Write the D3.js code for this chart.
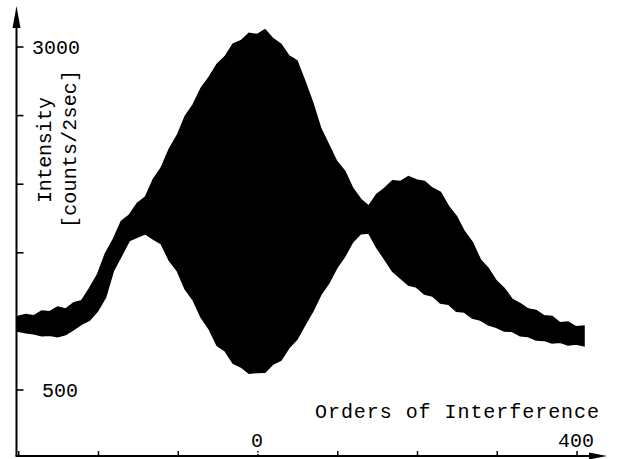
<!DOCTYPE html>
<html>
<head>
<meta charset="utf-8">
<script src="https://cdn.jsdelivr.net/npm/d3@7"></script>
<style>
  body { margin: 0; background: white; }
</style>
</head>
<body>
<div id="vis"></div>
<script>
const width = 617;
const height = 459;

// orders of interference (x), sampled every 10 orders
const orders = [-300, -290, -280, -270, -260, -250, -240, -230, -220, -210,
        -200, -190, -180, -170, -160, -150, -140, -130, -120, -110,
        -100, -90, -80, -70, -60, -50, -40, -30, -20, -10,
        0, 10, 20, 30, 40, 50, 60, 70, 80, 90,
        100, 110, 120, 130, 140, 150, 160, 170, 180, 190,
        200, 210, 220, 230, 240, 250, 260, 270, 280, 290,
        300, 310, 320, 330, 340, 350, 360, 370, 380, 390,
        400, 410];

// upper envelope of the fringes [counts/2sec]
const upper = [1035, 1050, 1040, 1075, 1070, 1105, 1090, 1135, 1150, 1240,
        1340, 1495, 1600, 1730, 1775, 1860, 1905, 2035, 2120, 2255,
        2355, 2495, 2580, 2700, 2780, 2875, 2930, 3020, 3045, 3100,
        3090, 3125, 3060, 3020, 2935, 2900, 2750, 2590, 2405, 2285,
        2165, 2095, 1970, 1890, 1840, 1925, 1970, 2025, 2020, 2055,
        2030, 2020, 1970, 1940, 1840, 1765, 1655, 1575, 1450, 1385,
        1295, 1240, 1160, 1130, 1090, 1080, 1040, 1035, 990, 995,
        960, 965];

// lower envelope of the fringes [counts/2sec]
const lower = [930, 918, 910, 895, 900, 888, 905, 940, 980, 1010,
        1075, 1175, 1370, 1480, 1590, 1615, 1638, 1600, 1565, 1445,
        1370, 1235, 1155, 1030, 945, 825, 785, 695, 668, 622,
        628, 630, 690, 718, 808, 870, 975, 1075, 1195, 1280,
        1390, 1475, 1580, 1640, 1645, 1540, 1455, 1365, 1315, 1265,
        1250, 1200, 1185, 1135, 1125, 1075, 1068, 1025, 1010, 975,
        958, 930, 928, 895, 890, 865, 862, 843, 848, 828,
        835, 822];

const xTicks = [-300, -200, -100, 0, 100, 200, 300, 400];
const xLabels = [0, 400];
const yTicks = [500, 1000, 1500, 2000, 2500, 3000];
const yLabels = [3000, 500];

const font = "'Liberation Mono', 'DejaVu Sans Mono', monospace";
const fontSize = 20;

const xScale = d3.scaleLinear()
        .domain([-300, 400])
        .range([17.75, 576]);

const yScale = d3.scaleLinear()
        .domain([500, 3000])
        .range([390, 47]);

const svg = d3.select("#vis")
        .append("svg")
        .attr("width", width)
        .attr("height", height);

// fringes: filled black between the envelopes
const data = orders.map((d, i) => ({o: d, hi: upper[i], lo: lower[i]}));

const area = d3.area()
        .x(d => xScale(d.o))
        .y0(d => yScale(d.lo))
        .y1(d => yScale(d.hi));

svg.append("path")
        .datum(data)
        .attr("d", area)
        .attr("fill", "black")
        .attr("stroke", "black")
        .attr("stroke-width", 1.6)
        .attr("stroke-linejoin", "miter");

// axes
const axisX = 16.5;
const axisY = 456;

svg.append("line")
        .attr("x1", axisX).attr("x2", axisX)
        .attr("y1", axisY).attr("y2", 20)
        .attr("stroke", "black")
        .attr("stroke-width", 2);

svg.append("path")
        .attr("d", "M" + axisX + ",6 L" + (axisX - 4) + ",28 L" + (axisX + 4) + ",28 Z")
        .attr("fill", "black");

svg.append("line")
        .attr("x1", axisX - 1).attr("x2", 595)
        .attr("y1", axisY).attr("y2", axisY)
        .attr("stroke", "black")
        .attr("stroke-width", 2);

svg.append("path")
        .attr("d", "M607," + axisY + " L589," + (axisY - 3.5) + " L589," + (axisY + 3.5) + " Z")
        .attr("fill", "black");

svg.selectAll(".ytick")
        .data(yTicks)
        .enter()
        .append("line")
        .attr("class", "ytick")
        .attr("x1", axisX).attr("x2", axisX + 7)
        .attr("y1", d => yScale(d)).attr("y2", d => yScale(d))
        .attr("stroke", "black")
        .attr("stroke-width", 1.6);

svg.selectAll(".xtick")
        .data(xTicks)
        .enter()
        .append("line")
        .attr("class", "xtick")
        .attr("x1", d => xScale(d) + 1).attr("x2", d => xScale(d) + 1)
        .attr("y1", axisY).attr("y2", axisY - 5)
        .attr("stroke", "black")
        .attr("stroke-width", 1.5)
        .attr("stroke-dasharray", d => d == 0 ? "2,1.5" : null);

svg.selectAll(".ylabel")
        .data(yLabels)
        .enter()
        .append("text")
        .attr("class", "ylabel")
        .attr("x", d => d >= 1000 ? 32 : 42)
        .attr("y", d => yScale(d) + 7)
        .attr("font-family", font)
        .attr("font-size", fontSize)
        .attr("textLength", d => d >= 1000 ? 48 : 36)
        .attr("lengthAdjust", "spacing")
        .text(d => d);

svg.selectAll(".xlabel")
        .data(xLabels)
        .enter()
        .append("text")
        .attr("class", "xlabel")
        .attr("x", d => xScale(d))
        .attr("y", 447)
        .attr("text-anchor", "middle")
        .attr("font-family", font)
        .attr("font-size", fontSize)
        .text(d => d);

svg.append("text")
        .attr("x", 315)
        .attr("y", 418)
        .attr("font-family", font)
        .attr("font-size", fontSize)
        .attr("textLength", 284)
        .attr("lengthAdjust", "spacing")
        .text("Orders of Interference");

svg.append("text")
        .attr("transform", "translate(51,203) rotate(-90)")
        .attr("font-family", font)
        .attr("font-size", fontSize)
        .attr("textLength", 106)
        .attr("lengthAdjust", "spacing")
        .text("Intensity");

svg.append("text")
        .attr("transform", "translate(76,228) rotate(-90)")
        .attr("font-family", font)
        .attr("font-size", fontSize)
        .attr("textLength", 158)
        .attr("lengthAdjust", "spacing")
        .text("[counts/2sec]");
</script>
</body>
</html>
